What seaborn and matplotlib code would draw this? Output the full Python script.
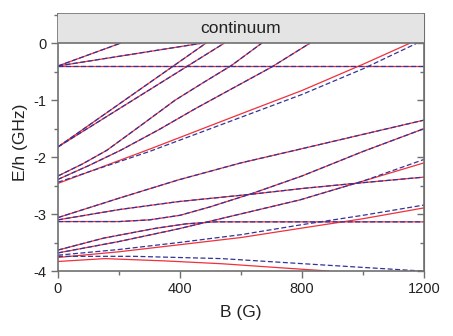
import pandas as pd
import matplotlib
matplotlib.use('Agg')
import matplotlib.pyplot as plt
import seaborn as sns
from matplotlib.ticker import MultipleLocator

# Bound-state levels: (B in G, E/h in GHz)
# curves where both models sit on top of each other
a = [(0, -0.40), (205, 0.0)]
b = [(0, -0.40), (472, 0.0)]
c = [(0, -0.40), (1200, -0.40)]
d = [(0, -1.82), (485, 0.0)]
e = [(0, -1.82), (545, 0.0)]
f = [(0, -2.33), (80, -2.12), (160, -1.88), (270, -1.45), (384, -1.00), (480, -0.68), (569, -0.39), (668, 0.0)]
g = [(0, -2.39), (100, -2.15), (205, -1.88), (330, -1.52), (450, -1.15), (580, -0.77), (700, -0.42), (826, 0.0)]
i = [(0, -3.06), (200, -2.72), (394, -2.40), (600, -2.10), (777, -1.88), (1000, -1.60), (1200, -1.35)]
j = [(0, -3.10), (200, -2.92), (394, -2.78), (635, -2.65), (800, -2.55), (974, -2.46), (1200, -2.35)]
k = [(0, -3.13), (200, -3.13), (300, -3.10), (400, -3.02), (500, -2.87), (635, -2.64), (800, -2.33), (1000, -1.90), (1200, -1.50)]
n = [(0, -3.63), (150, -3.42), (318, -3.25), (420, -3.17), (515, -3.135), (1200, -3.135)]
m = [(0, -3.68), (200, -3.48), (393, -3.26), (541, -3.07), (793, -2.75), (1000, -2.42)]

# curves where the two models split apart
h_cc = [(0, -2.46), (300, -1.86), (600, -1.24), (800, -0.83), (1000, -0.37), (1154, 0.0)]
h_ap = [(0, -2.44), (300, -1.90), (600, -1.30), (800, -0.90), (1000, -0.45), (1177, 0.0)]
m_cc = m + [(1200, -2.10)]
m_ap = m + [(1200, -2.04)]
l_cc = [(0, -3.76), (200, -3.66), (393, -3.54), (600, -3.41), (793, -3.25), (1000, -3.08), (1200, -2.89)]
l_ap = [(0, -3.72), (200, -3.62), (393, -3.50), (600, -3.36), (793, -3.19), (1000, -3.02), (1200, -2.84)]
q_cc = [(0, -3.83), (154, -3.78), (350, -3.82), (537, -3.87), (700, -3.93), (865, -3.99), (890, -4.0)]
q_ap = [(0, -3.74), (250, -3.74), (537, -3.78), (865, -3.89), (1200, -4.0)]

shared = {'a': a, 'b': b, 'c': c, 'd': d, 'e': e, 'f': f, 'g': g,
          'i': i, 'j': j, 'k': k, 'n': n}
cc_only = {'h': h_cc, 'm': m_cc, 'l': l_cc, 'q': q_cc}
ap_only = {'h': h_ap, 'm': m_ap, 'l': l_ap, 'q': q_ap}

rows = []
for model, extra in [('cc', cc_only), ('approx', ap_only)]:
    for name, pts in list(shared.items()) + list(extra.items()):
        for B, E in pts:
            rows.append({'B': B, 'E': E, 'curve': name, 'model': model})
df = pd.DataFrame(rows)

sns.set_style('ticks')
plt.rcParams['font.family'] = ['Liberation Sans', 'DejaVu Sans']
plt.rcParams['axes.unicode_minus'] = False

fig = plt.figure(figsize=(4.53, 3.36), dpi=100)
ax = fig.add_axes([0.128, 0.193, 0.808, 0.765])

sns.lineplot(data=df, x='B', y='E', hue='model', style='model', units='curve',
             estimator=None, sort=False, hue_order=['cc', 'approx'],
             style_order=['cc', 'approx'],
             palette={'cc': '#f0303a', 'approx': '#33339a'},
             dashes={'cc': '', 'approx': (4, 2)},
             linewidth=0.9, legend=False, ax=ax)

# continuum band
ax.axhspan(0, 0.51, facecolor='#e4e4e4', edgecolor='none', zorder=3)
ax.axhline(0, color='#707070', lw=1.2, zorder=4)
ax.text(600, 0.255, 'continuum', ha='center', va='center', fontsize=12.5,
        color='#222222', zorder=5)

ax.set_xlim(0, 1200)
ax.set_ylim(-4, 0.51)
ax.xaxis.set_major_locator(MultipleLocator(400))
ax.xaxis.set_minor_locator(MultipleLocator(200))
ax.yaxis.set_major_locator(MultipleLocator(1))
ax.yaxis.set_minor_locator(MultipleLocator(0.5))
ax.tick_params(which='both', direction='out', color='#707070', width=1,
               labelsize=10.5, labelcolor='#222222', pad=3)
ax.tick_params(which='major', length=5)
ax.tick_params(which='minor', length=3)

ax2 = ax.secondary_yaxis('right')
ax2.yaxis.set_major_locator(MultipleLocator(1))
ax2.yaxis.set_minor_locator(MultipleLocator(0.5))
ax2.tick_params(which='both', direction='in', color='#707070', width=1, labelright=False)
ax2.tick_params(which='major', length=5)
ax2.tick_params(which='minor', length=3)
ax2.spines['right'].set_color('#707070')

for s in ax.spines.values():
    s.set_color('#707070')
    s.set_linewidth(1.2)

ax.set_xlabel('B (G)', fontsize=12.5, color='#222222', labelpad=6)
ax.set_ylabel('E/h (GHz)', fontsize=12.5, color='#222222', labelpad=4)

fig.savefig('out.png', dpi=100)
